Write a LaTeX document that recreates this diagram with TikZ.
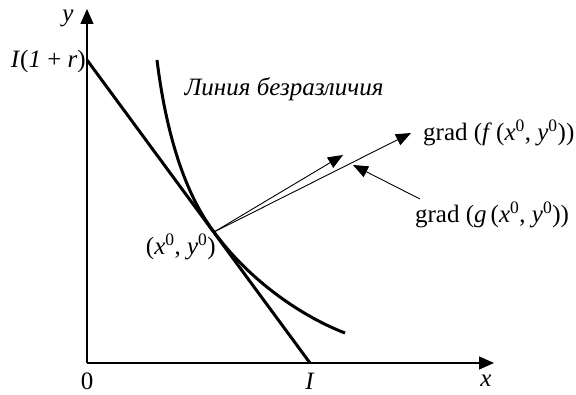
\documentclass[tikz,border=0pt]{standalone}
\usepackage{fontspec}
\setmainfont{Liberation Serif}
\usetikzlibrary{arrows.meta}
\begin{document}
\begin{tikzpicture}[x=1pt,y=-1pt,
  axis/.style={line width=1.2pt,-{Triangle[length=15pt,width=13pt]}},
  thick line/.style={line width=3pt},
  gradarrow/.style={line width=0.9pt,-{Triangle[length=15pt,width=12pt]}},
  lbl/.style={inner sep=0pt,font=\fontsize{25}{30}\selectfont}]
\useasboundingbox (0,0) rectangle (576,395);
\coordinate (O) at (87,363);
\coordinate (Ytip) at (87,9);
\coordinate (Xtip) at (494,363);
\draw[axis] (O) -- (Ytip);
\draw[axis] (O) -- (Xtip);
% budget line
\coordinate (B1) at (87,60);
\coordinate (B2) at (310,363);
\coordinate (P) at (214,232);
\draw[thick line] (B1) -- (B2);
% indifference curve
\coordinate (C1) at (157,60);
\coordinate (C2) at (345,333);
\draw[thick line] (C1) .. controls (165,125) and (182,190) .. (P)
  .. controls (246,276) and (296,314) .. (C2);
% gradients
\coordinate (G1) at (343,155);
\coordinate (G2) at (411,133);
\draw[gradarrow] (P) -- (G1);
\draw[gradarrow] (P) -- (G2);
\coordinate (Gt) at (420,199);
\coordinate (Gh) at (353,165);
\draw[gradarrow] (Gt) -- (Gh);
% labels
\node[lbl] (ly) at (68,18) {\textit{y}};
\node[lbl] (lx) at (486,381) {\textit{x}};
\node[lbl] (l0) at (87,381) {0};
\node[lbl] (lI) at (310,381) {\textit{I}};
\node[lbl,anchor=east] (lI1r) at (86,61) {\textit{I}(\textit{1} + \textit{r})};
\node[lbl] (lcurve) at (284,89) {\textit{Линия безразличия}};
\node[lbl,anchor=east] (lP) at (216,247) {(\textit{x}\textsuperscript{0}, \textit{y}\textsuperscript{0})};
\node[lbl,anchor=west] (lf) at (423,133) {grad (\textit{f}\,(\textit{x}\textsuperscript{0}, \textit{y}\textsuperscript{0}))};
\node[lbl] (lg) at (492,215) {grad (\textit{g}\,(\textit{x}\textsuperscript{0}, \textit{y}\textsuperscript{0}))};
\end{tikzpicture}
\end{document}
